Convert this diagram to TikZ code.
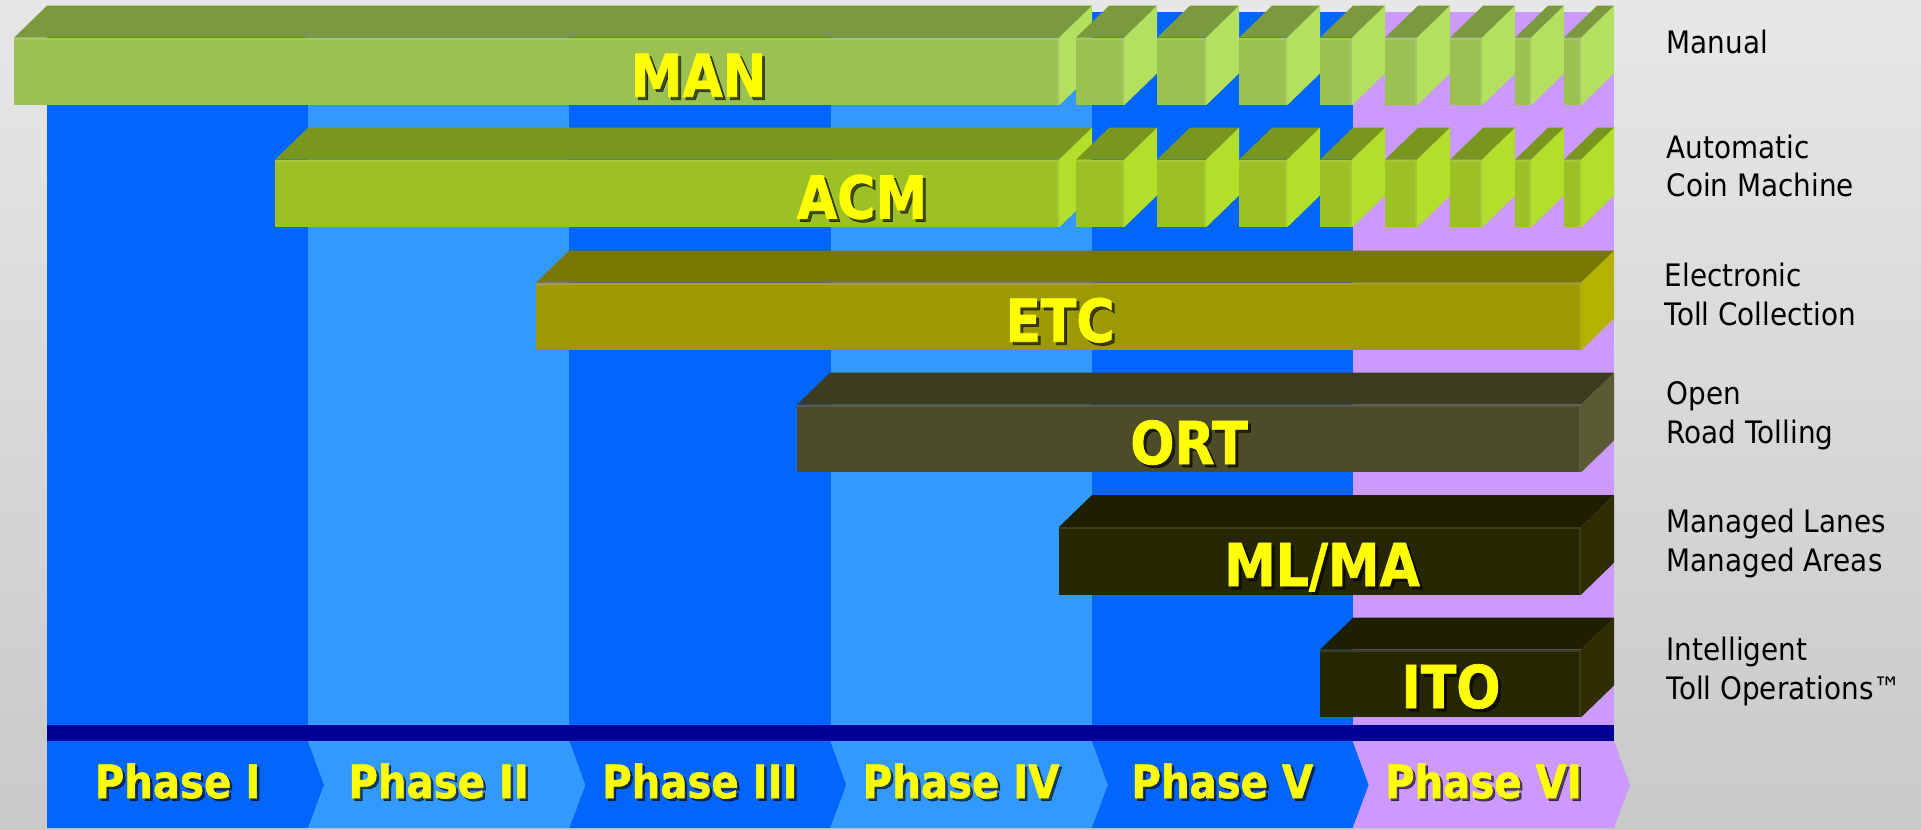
\documentclass[tikz,border=0pt]{standalone}
\usepackage{fontspec}
\newfontfamily\barfont[FakeStretch=0.88,FakeBold=1.2]{DejaVu Sans}
\newfontfamily\sidefont[FakeStretch=0.9]{DejaVu Sans}
\definecolor{bgTop}{HTML}{E7E7E7}
\definecolor{bgBot}{HTML}{C9C9C9}
\definecolor{colDark}{HTML}{0066FF}
\definecolor{colLight}{HTML}{3399FF}
\definecolor{colPurple}{HTML}{CC99FF}
\definecolor{navyBand}{HTML}{000099}
\definecolor{lblYellow}{HTML}{FFFF00}
\definecolor{manF}{HTML}{9BC153}
\definecolor{manT}{HTML}{7B993D}
\definecolor{manS}{HTML}{B3E05E}
\definecolor{acmF}{HTML}{9CC124}
\definecolor{acmT}{HTML}{79971F}
\definecolor{acmS}{HTML}{B2DF29}
\definecolor{etcF}{HTML}{9D9900}
\definecolor{etcT}{HTML}{787700}
\definecolor{etcS}{HTML}{B3B200}
\definecolor{ortF}{HTML}{4C4C28}
\definecolor{ortT}{HTML}{3C3C21}
\definecolor{ortS}{HTML}{5A5A33}
\definecolor{mlF}{HTML}{262600}
\definecolor{mlT}{HTML}{1F1F00}
\definecolor{mlS}{HTML}{2E2E00}
\newcommand\tollbox[7]{%
  \fill[#6] (#1,#3+32) -- (#2,#3+32) -- (#2+33,#3) -- (#1+33,#3) -- cycle;
  \fill[#7] (#2,#3+32) -- (#2+33,#3) -- (#2+33,#3+#4) -- (#2,#3+32+#4) -- cycle;
  \fill[#5] (#1,#3+32) rectangle (#2,#3+32+#4);
  \draw[#5!90!white, line width=0.6pt] (#1,#3+33) -- (#2-1,#3+33) -- (#2-1,#3+32+#4);
}
\tikzset{
  barlbl/.style={anchor=base, inner sep=0pt, text=lblYellow,
    font=\barfont\bfseries\fontsize{16.8}{20}\selectfont},
  barshd/.style={barlbl, text=black, opacity=0.6},
  phlbl/.style={anchor=base, inner sep=0pt, text=lblYellow,
    font=\barfont\bfseries\fontsize{13}{16}\selectfont},
  phshd/.style={phlbl, text=black, opacity=0.6},
  sidelbl/.style={anchor=base west, inner sep=0pt, text=black,
    font=\sidefont\fontsize{8.8}{11}\selectfont}
}
\begin{document}
\begin{tikzpicture}[x=0.01cm, y=-0.01cm]
\useasboundingbox (0,0) rectangle (1921,829);
\shade[top color=bgTop, bottom color=bgBot] (0,0) rectangle (1921,829);
% phase columns
\fill[colDark]   (47,12) rectangle (308.2,725);
\fill[colLight]  (308.2,12) rectangle (569.3,725);
\fill[colDark]   (569.3,12) rectangle (830.5,725);
\fill[colLight]  (830.5,12) rectangle (1091.7,725);
\fill[colDark]   (1091.7,12) rectangle (1352.8,725);
\fill[colPurple] (1352.8,12) rectangle (1614,725);
\fill[navyBand]  (47,725) rectangle (1614,741);
% phase chevrons
\fill[colDark] (47,741) -- (308.2,741) -- (324.2,785) -- (308.2,828) -- (47,828) -- cycle;
\foreach \l/\r/\c in {308.2/569.3/colLight, 569.3/830.5/colDark, 830.5/1091.7/colLight, 1091.7/1352.8/colDark, 1352.8/1614/colPurple}{
  \fill[\c] (\l,741) -- (\r,741) -- (\r+16,785) -- (\r,828) -- (\l,828) -- (\l+16,785) -- cycle;
}
% MAN row
\tollbox{14}{1059}{5.7}{67.7}{manF}{manT}{manS}
\foreach \a/\b in {1076/1124, 1157/1206, 1239/1287, 1320/1352, 1385/1417, 1450/1482, 1515/1531, 1564/1581}{
  \tollbox{\a}{\b}{5.7}{67.7}{manF}{manT}{manS}
}
% ACM row
\tollbox{275}{1059}{127.7}{67.7}{acmF}{acmT}{acmS}
\foreach \a/\b in {1076/1124, 1157/1206, 1239/1287, 1320/1352, 1385/1417, 1450/1482, 1515/1531, 1564/1581}{
  \tollbox{\a}{\b}{127.7}{67.7}{acmF}{acmT}{acmS}
}
% ETC, ORT, ML/MA, ITO rows
\tollbox{536}{1581}{250.7}{67.7}{etcF}{etcT}{etcS}
\tollbox{797}{1581}{372.7}{67.7}{ortF}{ortT}{ortS}
\tollbox{1059}{1581}{495}{67.7}{mlF}{mlT}{mlS}
\tollbox{1320}{1581}{617.7}{67.7}{mlF}{mlT}{mlS}
% bar labels
\node[barshd] (manS) at (701.5,99.7) {MAN};
\node[barlbl] (man) at (698.5,96.7) {MAN};
\node[barshd] (acmSh) at (865,221.5) {ACM};
\node[barlbl] (acm) at (862,218.5) {ACM};
\node[barshd] (etcSh) at (1063,344.7) {ETC};
\node[barlbl] (etc) at (1060,341.7) {ETC};
\node[barshd] (ortSh) at (1192,467) {ORT};
\node[barlbl] (ort) at (1189,464) {ORT};
\node[barshd] (mlSh) at (1325,589) {ML/MA};
\node[barlbl] (ml) at (1322,586) {ML/MA};
\node[barshd] (itoSh) at (1454,711) {ITO};
\node[barlbl] (ito) at (1451,708) {ITO};
% phase labels
\foreach \x/\t/\n in {177.6/Phase I/p1, 438.7/Phase II/p2, 699.9/Phase III/p3, 961.1/Phase IV/p4, 1222.3/Phase V/p5, 1483.4/Phase VI/p6}{
  \node[phshd] (\n s) at (\x+2.5,800.5) {\t};
  \node[phlbl] (\n) at (\x,798) {\t};
}
% side labels
\node[sidelbl] (l1) at (1666,53.3) {Manual};
\node[sidelbl] (l2a) at (1666,158.3) {Automatic};
\node[sidelbl] (l2b) at (1666,196) {Coin Machine};
\node[sidelbl] (l3a) at (1664,286.7) {Electronic};
\node[sidelbl] (l3b) at (1664,325) {Toll Collection};
\node[sidelbl] (l4a) at (1666,404) {Open};
\node[sidelbl] (l4b) at (1666,443.3) {Road Tolling};
\node[sidelbl] (l5a) at (1666,532.3) {Managed Lanes};
\node[sidelbl] (l5b) at (1666,571.7) {Managed Areas};
\node[sidelbl] (l6a) at (1666,660.7) {Intelligent};
\node[sidelbl] (l6b) at (1666,699.3) {Toll Operations™};
\end{tikzpicture}
\end{document}
